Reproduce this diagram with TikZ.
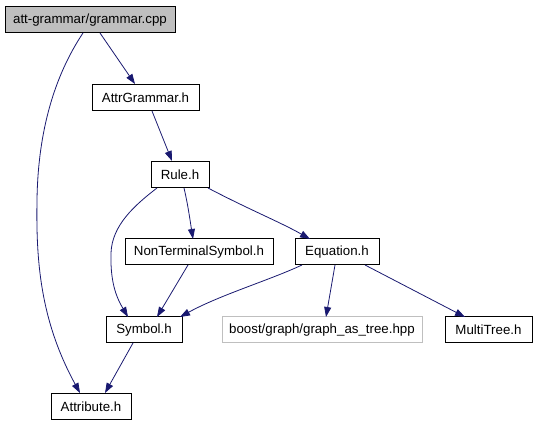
\documentclass[tikz,border=0pt]{standalone}
\usepackage{fontspec}
\setmainfont{Liberation Sans}
\usetikzlibrary{arrows.meta}
\definecolor{edgecol}{RGB}{25,25,112}
\definecolor{rootfill}{RGB}{191,191,191}
\definecolor{extgray}{RGB}{191,191,191}
\begin{document}
\begin{tikzpicture}[x=1pt,y=-1pt,
  filebox/.style={draw=black, line width=1pt, inner sep=0pt, minimum height=26pt,
    font=\fontsize{13.3}{16}\selectfont, text=black},
  rootbox/.style={filebox, fill=rootfill},
  extbox/.style={filebox, draw=extgray},
  dep/.style={draw=edgecol, line width=0.8pt, -{Triangle[length=10pt,width=7pt]}, fill=none}]
\useasboundingbox (0,0) rectangle (536,427);
\node[rootbox, minimum width=170pt] (cpp) at (90,20) {att-grammar/grammar.cpp};
\node[filebox, minimum width=107pt] (attr) at (145.5,97.5) {AttrGrammar.h};
\node[filebox, minimum width=58pt] (rule) at (180,174.5) {Rule.h};
\node[filebox, minimum width=148pt] (nts) at (199,252) {NonTerminalSymbol.h};
\node[filebox, minimum width=84pt] (eq) at (337,252) {Equation.h};
\node[filebox, minimum width=76pt] (sym) at (144,330) {Symbol.h};
\node[extbox, minimum width=200pt] (boost) at (322,330) {boost/graph/graph\_as\_tree.hpp};
\node[filebox, minimum width=87pt] (mt) at (488.5,330) {MultiTree.h};
\node[filebox, minimum width=80pt] (att) at (91,407) {Attribute.h};

\coordinate (cppA) at (100,33);
\coordinate (cppB) at (83,33);
\coordinate (attrA) at (152,111);
\coordinate (ruleA) at (157,188);
\coordinate (ruleB) at (184,188);
\coordinate (ruleC) at (208,188);
\coordinate (ntsA) at (188,265);
\coordinate (eqA) at (302,265);
\coordinate (eqB) at (335,265);
\coordinate (eqC) at (365,265);
\coordinate (symA) at (133,343);

\draw[dep] (cppA) -- (135,84);
\draw[dep] (cppB) .. controls (55,75) and (38,130) .. (37,200) .. controls (36,260) and (40,320) .. (80,393);
\draw[dep] (attrA) -- (172,161);
\draw[dep] (ruleA) .. controls (135,205) and (112,225) .. (111,253) .. controls (110,285) and (118,300) .. (128,317);
\draw[dep] (ruleB) .. controls (188,205) and (190,220) .. (193,239);
\draw[dep] (ruleC) .. controls (250,210) and (280,222) .. (310,239);
\draw[dep] (ntsA) -- (157,317);
\draw[dep] (eqA) .. controls (270,280) and (220,295) .. (180,317);
\draw[dep] (eqB) -- (326,317);
\draw[dep] (eqC) -- (465,317);
\draw[dep] (symA) -- (105,393);
\end{tikzpicture}
\end{document}
